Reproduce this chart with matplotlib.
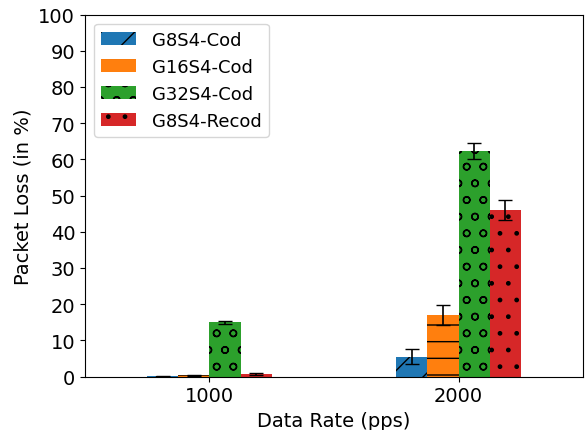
import numpy as np
import matplotlib.pyplot as plt

rates = ['1000', '2000']
series = ['G8S4-Cod', 'G16S4-Cod', 'G32S4-Cod', 'G8S4-Recod']
loss_g8 = [0.1, 5.5]
loss_g16 = [0.3, 17.1]
loss_g32 = [15.0, 62.4]
loss_recod = [0.7, 46.0]
err_g8 = [0.1, 2.1]
err_g16 = [0.2, 2.8]
err_g32 = [0.4, 2.2]
err_recod = [0.2, 2.8]

values = [loss_g8, loss_g16, loss_g32, loss_recod]
errors = [err_g8, err_g16, err_g32, err_recod]
colors = ['#1f77b4', '#ff7f0e', '#2ca02c', '#d62728']
hatches = ['/', '-', 'o', '.']

x = np.arange(1, len(rates) + 1)
w = 0.125

fig, ax = plt.subplots(figsize=(5.86, 4.31), dpi=100)
for i in range(4):
    ax.bar(x + (i - 2) * w, values[i], w, align='edge', color=colors[i],
           hatch=hatches[i], label=series[i])
    ax.errorbar(x + (i - 1.5) * w, values[i], yerr=errors[i], fmt='none',
                ecolor='black', capsize=5, elinewidth=1.2)

ax.set_xlim(0.5, 2.5)
ax.set_ylim(0, 100)
ax.set_yticks(np.arange(0, 101, 10))
ax.set_xticks(x)
ax.set_xticklabels(rates)
ax.tick_params(labelsize=14)
ax.set_xlabel('Data Rate (pps)', fontsize=14)
ax.set_ylabel('Packet Loss (in %)', fontsize=14)
ax.legend(loc='upper left', fontsize=13, handlelength=1.9, handletextpad=0.9)

plt.subplots_adjust(left=0.145, right=0.995, top=0.964, bottom=0.124)
plt.savefig('out.png')
